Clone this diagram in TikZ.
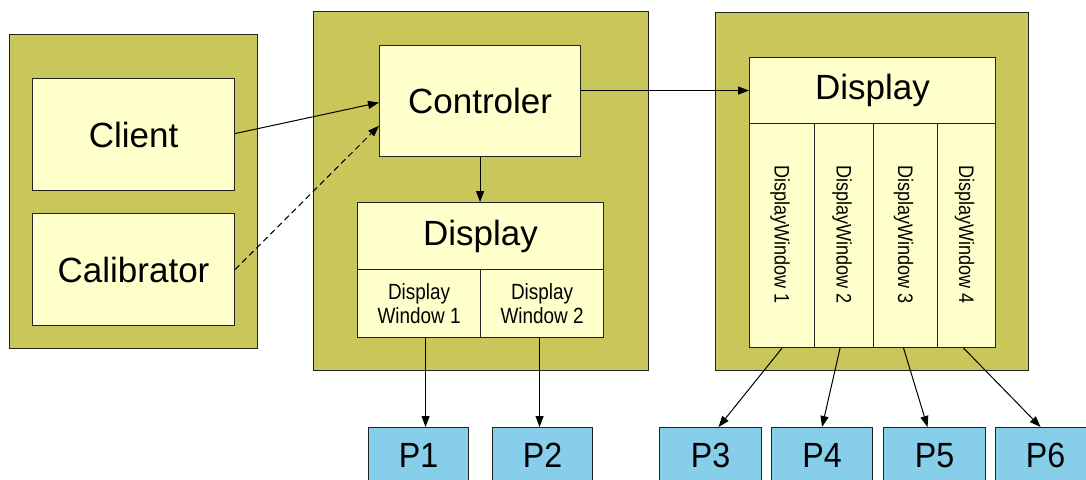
\documentclass[tikz,border=0pt]{standalone}
\usepackage{fontspec}
\setmainfont{Liberation Sans}
\newfontfamily\narrowf[FakeStretch=0.86]{Liberation Sans}
\newfontfamily\pfont[FakeStretch=0.92]{Liberation Sans}
\usetikzlibrary{arrows.meta,calc}
\definecolor{olivebg}{HTML}{C9C65A}
\definecolor{paleyel}{HTML}{FFFFCC}
\definecolor{skyb}{HTML}{87CEEB}
\definecolor{edge}{HTML}{222222}
\begin{document}
\begin{tikzpicture}[x=1pt,y=-1pt,
  sz/.style 2 args={minimum width=#1pt, minimum height=#2pt},
  container/.style={draw=edge, line width=1.1pt, fill=olivebg, anchor=north west, inner sep=0pt},
  ybox/.style={draw=edge, line width=1.1pt, fill=paleyel, anchor=north west, inner sep=0pt,
    font=\fontsize{35}{40}\selectfont},
  wbox/.style={draw=edge, line width=1.1pt, fill=paleyel, anchor=north west, inner sep=0pt,
    align=center, font=\narrowf\fontsize{22}{26}\selectfont},
  vtext/.style={rotate=-90, inner sep=0pt, font=\narrowf\fontsize{21}{24}\selectfont},
  pbox/.style={draw=edge, line width=1.1pt, fill=skyb, anchor=north west, inner sep=0pt},
  plabel/.style={font=\pfont\fontsize{35}{40}\selectfont, anchor=base, inner sep=0pt},
  conn/.style={draw=black, line width=1pt, -{Triangle[length=11pt,width=8pt]}},
  dconn/.style={conn, dash pattern=on 6pt off 4pt}
]
\clip (0,0) rectangle (1086,479);
\fill[white] (0,0) rectangle (1086,479);

% containers
\node[container, sz={248}{314}] (cl) at (9,34) {};
\node[container, sz={335}{359}] (cm) at (313,11) {};
\node[container, sz={313}{358}] (cr) at (715,12) {};

% left
\node[ybox, sz={202}{112}] (client) at (32,78) {Client};
\node[ybox, sz={202}{112}] (calib) at (32,213) {Calibrator};

% middle
\node[ybox, sz={201}{111}] (ctrl) at (379,45) {Controler};
\node[ybox, sz={246}{67}] (mdisp) at (357,202) {Display};
\node[wbox, sz={123}{68}] (dw1) at (357,269) {Display\\[-2pt]Window 1};
\node[wbox, sz={123}{68}] (dw2) at (480,269) {Display\\[-2pt]Window 2};

% right
\node[ybox, sz={246}{66}] (rdisp) at (749,57) {Display};
\node[wbox, sz={65}{224}] (rw1) at (749,123) {};
\node[wbox, sz={59}{224}] (rw2) at (814,123) {};
\node[wbox, sz={64}{224}] (rw3) at (873,123) {};
\node[wbox, sz={58}{224}] (rw4) at (937,123) {};
\node[vtext] (rw1t) at ([xshift=-2pt,yshift=1pt]rw1.center) {DisplayWindow 1};
\node[vtext] (rw2t) at ([xshift=-2pt,yshift=1pt]rw2.center) {DisplayWindow 2};
\node[vtext] (rw3t) at ([xshift=-2pt,yshift=1pt]rw3.center) {DisplayWindow 3};
\node[vtext] (rw4t) at ([xshift=-2pt,yshift=1pt]rw4.center) {DisplayWindow 4};

% P boxes
\node[pbox, sz={100}{70}] (p1) at (368,427) {};
\node[pbox, sz={100}{70}] (p2) at (492,427) {};
\node[pbox, sz={102}{70}] (p3) at (659,427) {};
\node[pbox, sz={101}{70}] (p4) at (771,427) {};
\node[pbox, sz={102}{70}] (p5) at (883,427) {};
\node[pbox, sz={100}{70}] (p6) at (995,427) {};
\node[plabel] (p1t) at ([yshift=-40pt]p1.north) {P1};
\node[plabel] (p2t) at ([yshift=-40pt]p2.north) {P2};
\node[plabel] (p3t) at ([yshift=-40pt]p3.north) {P3};
\node[plabel] (p4t) at ([yshift=-40pt]p4.north) {P4};
\node[plabel] (p5t) at ([yshift=-40pt]p5.north) {P5};
\node[plabel] (p6t) at ([yshift=-40pt]p6.north) {P6};

% connectors
\draw[conn] ([yshift=1pt]client.east) -- ([yshift=-1.5pt]ctrl.west);
\draw[dconn] (calib.east) -- ($(ctrl.north west)!0.72!(ctrl.south west)$);
\draw[conn] (ctrl.east |- rdisp.west) -- (rdisp.west);
\draw[conn] (ctrl.south) -- (ctrl.south |- mdisp.north);
\draw[conn] ([xshift=6.5pt]dw1.south) -- ([xshift=6.5pt]dw1.south |- p1.north);
\draw[conn] ([xshift=-2.5pt]dw2.south) -- ([xshift=-2.5pt]dw2.south |- p2.north);
\draw[conn] (rw1.south) -- ([xshift=8pt]p3.north);
\draw[conn] ([xshift=-4pt]rw2.south) -- (p4.north);
\draw[conn] ([xshift=-2pt]rw3.south) -- ([xshift=-7pt]p5.north);
\draw[conn] ([xshift=-3pt]rw4.south) -- ([xshift=-5pt]p6.north);
\end{tikzpicture}
\end{document}
